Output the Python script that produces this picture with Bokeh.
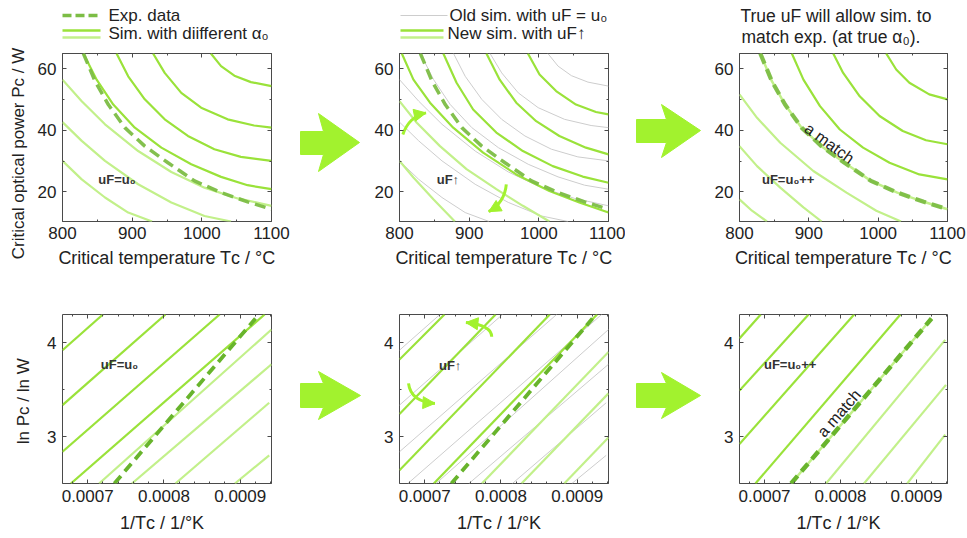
from math import pi
from bokeh.plotting import figure
from bokeh.models import Range1d, SingleIntervalTicker, LinearAxis, NumeralTickFormatter, Arrow, NormalHead
from bokeh.layouts import row, column
from bokeh.core.properties import value
from bokeh.embed import file_html
from bokeh.resources import INLINE

# ---------------- data ----------------
# Top row: critical temperature Tc (degC) vs critical optical power Pc (W)
exp_T = [830, 846.7, 865.7, 889.5, 918.1, 951.4, 989.5, 1027.6, 1065.7, 1100]
exp_P = [65.0, 56.0, 48.4, 40.9, 34.9, 29.5, 23.6, 19.8, 16.8, 14.4]

# simulations with uF = u0 (one curve per alpha0)
old_T = [
    [1013, 1027.6, 1046.7, 1070.5, 1100],
    [930, 946.7, 970.5, 999, 1037, 1075, 1100],
    [877.6, 894.3, 918.1, 946.7, 980, 1018, 1056, 1100],
    [830, 849, 872.9, 903.8, 941.9, 984.8, 1027.6, 1065.7, 1100],
    [800, 827.6, 861, 908.6, 956.2, 1003.8, 1051.4, 1100],
    [800, 827.6, 861, 908.6, 956.2, 1003.8, 1042],
    [800, 827.6, 861, 894.3, 928.6],
]
old_P = [
    [65, 60.9, 57.8, 55.7, 54.4],
    [65, 58.7, 52.2, 47.4, 43.6, 41.6, 40.9],
    [65, 57.6, 50.1, 43.6, 38.2, 33.9, 31.4, 30.1],
    [65, 56.5, 48.4, 40.9, 34.4, 29.0, 24.9, 22.2, 20.9],
    [56.5, 49.5, 42.0, 33.3, 26.5, 21.4, 17.9, 15.5],
    [42.7, 36.6, 30.1, 22.5, 16.6, 12.2, 10.4],
    [30.1, 24.1, 18.2, 13.3, 10.4],
]
old_shade = ["b", "b", "b", "b", "l", "l", "l"]

# simulations with uF increased
new_T = [
    [984.3, 1001, 1024.8, 1053.3, 1082, 1100],
    [924.8, 943.8, 967.6, 996.2, 1029.5, 1067.6, 1100],
    [862.9, 881.9, 905.7, 939, 977.1, 1020, 1062.9, 1100],
    [803.3, 820, 843.8, 877.1, 920, 967.6, 1015.2, 1058.1, 1100],
    [800, 824.8, 858.1, 896.2, 939, 977.1, 1015.2],
    [800, 820, 848.6, 879.5],
]
new_P = [
    [65, 58.2, 52.8, 48.4, 46.0, 45.2],
    [65, 56.5, 49.0, 43.0, 38.2, 34.4, 32.2],
    [65, 55.5, 46.8, 39.3, 33.3, 28.4, 25.0, 23.0],
    [65, 56.5, 49.0, 40.9, 32.8, 25.7, 20.3, 16.6, 13.3],
    [49.5, 42.5, 34.9, 27.4, 20.9, 15.5, 10.4],
    [30.1, 24.7, 17.6, 10.4],
]
new_shade = ["b", "b", "b", "b", "l", "l"]

# simulations with the true uF (the exp. curve itself is matched)
true_T = [
    [1011.6, 1026, 1045, 1073.7, 1100],
    [935.2, 949.5, 973.4, 1002, 1035.5, 1069, 1100],
    [875.5, 892.2, 916.1, 944.7, 978.2, 1016.4, 1059.4, 1100],
    [800, 825.3, 858.8, 906.5, 954.3, 997.3, 1033],
    [800, 825.3, 858.8, 892.2, 918.5],
    [800, 818, 839.6],
]
true_P = [
    [65, 59.8, 55.5, 51.7, 50.1],
    [65, 58.7, 51.1, 44.7, 39.8, 36.8, 35.5],
    [65, 56.5, 47.9, 40.3, 34.4, 29.5, 25.7, 24.1],
    [51.7, 44.1, 36.0, 26.8, 19.8, 13.9, 10.4],
    [34.9, 28.4, 21.4, 15.0, 10.4],
    [17.6, 13.9, 10.4],
]
true_shade = ["b", "b", "b", "l", "l", "l"]

# Bottom row: 1/Tc (1/K) vs ln Pc
exp_inv = [0.000735, 0.000920]
exp_ln = [2.50, 4.257]

old_inv = [[0.000667, 0.000720], [0.000667, 0.000802], [0.000667, 0.000873], [0.000678, 0.000932],
           [0.000715, 0.000941], [0.000758, 0.000941], [0.000815, 0.000938], [0.000893, 0.000938]]
old_ln = [[3.92, 4.30], [3.335, 4.30], [2.838, 4.30], [2.50, 4.30],
          [2.50, 4.14], [2.50, 3.77], [2.50, 3.36], [2.50, 2.80]]
old_lshade = ["b", "b", "b", "b", "l", "l", "l", "l"]

new_inv = [[0.000667, 0.000726], [0.000667, 0.000793], [0.000667, 0.000864], [0.000712, 0.000926],
           [0.000775, 0.000941], [0.000827, 0.000941], [0.000883, 0.000941]]
new_ln = [[3.82, 4.30], [3.24, 4.30], [2.64, 4.30], [2.50, 4.30],
          [2.50, 3.90], [2.50, 3.46], [2.50, 2.99]]
new_lshade = ["b", "b", "b", "b", "l", "l", "l"]

true_inv = [[0.000667, 0.000695], [0.000667, 0.000758], [0.000667, 0.000818], [0.000688, 0.000879],
            [0.000781, 0.000938], [0.000831, 0.000939], [0.000888, 0.000938]]
true_ln = [[4.045, 4.30], [3.49, 4.30], [2.92, 4.30], [2.50, 4.30],
           [2.50, 4.03], [2.50, 3.55], [2.50, 3.02]]
true_lshade = ["b", "b", "b", "b", "l", "l", "l"]

top_x_range = (800, 1100)
top_y_range = (10.4, 65)
bot_x_range = (0.000667, 0.000941)
bot_y_range = (2.5, 4.3)

# annotations
top_labels = [(851.4, 24.1, "uF=u\u2080"), (853.4, 23.9, "uF\u2191"), (832.4, 24.1, "uF=u\u2080++")]
bot_labels = [(0.0007172, 3.77, "uF=u\u2080"), (0.0007187, 3.76, "uF\u2191"), (0.0006992, 3.77, "uF=u\u2080++")]
top_match = (922.5, 33.6, -0.627)
bot_match = (0.0008067, 3.19, 0.855)
# curved arrows: start, control, end
top_curved = [((804.8, 38.7), (814.0, 44.6), (838.1, 45.7)),
              ((953.3, 22.5), (951.0, 16.6), (928.1, 13.6))]
bot_curved = [((0.0007879, 4.062), (0.0007879, 4.186), (0.0007541, 4.215)),
              ((0.0006788, 3.566), (0.0006818, 3.370), (0.0007135, 3.353))]

# block arrows between panels (picture pixel outlines)
blockA = ([300, 323, 318, 359, 318, 323, 300], [131, 131, 113, 142, 171, 154, 154])
blockB = ([636, 666, 661, 700, 661, 666, 636], [119, 119, 104, 130, 157, 142, 142])
blockC = ([300, 323, 318, 360, 318, 323, 300], [383, 383, 371, 395, 419, 407, 407])
blockD = ([636, 666, 661, 700, 661, 666, 636], [383, 383, 372, 395, 418, 407, 407])

# ---------------- style ----------------
FONT = "Liberation Sans"
BRIGHT = "#9ae23a"
LIGHT = "#c2f08a"
DASH_TOP = "#7cbd45"
DASH_BOT = "#68b42c"
GRAY = "#cdcdcd"
LIME = "#a2f22e"
AX = "#4a4a4a"
TXT = "#222222"


def shade(s):
    return BRIGHT if s == "b" else LIGHT


def make_panel(width, height, bl, br, bt, bb, xr, yr, xtk, ytk, xlabel, xfmt=None, xstand=(5, 6)):
    p = figure(width=width, height=height, x_range=Range1d(*xr), y_range=Range1d(*yr),
               output_backend="svg", toolbar_location=None,
               min_border_left=bl, min_border_right=br, min_border_top=bt, min_border_bottom=bb)
    p.grid.visible = False
    p.outline_line_color = AX
    p.outline_line_width = 1
    p.xaxis.ticker = xtk
    p.yaxis.ticker = ytk
    if xfmt is not None:
        p.xaxis.formatter = xfmt
    p.xaxis.axis_label = xlabel
    for ax in (p.xaxis[0], p.yaxis[0]):
        ax.axis_line_color = None
        ax.major_tick_in = 4
        ax.major_tick_out = 0
        ax.minor_tick_in = 2
        ax.minor_tick_out = 0
        ax.major_tick_line_color = AX
        ax.minor_tick_line_color = AX
        ax.major_label_text_font = FONT
        ax.major_label_text_font_size = "17px"
        ax.major_label_text_color = TXT
        ax.axis_label_text_font = FONT
        ax.axis_label_text_font_size = "18px"
        ax.axis_label_text_font_style = "normal"
        ax.axis_label_text_color = TXT
    p.xaxis.major_label_standoff = xstand[0]
    p.xaxis.axis_label_standoff = xstand[1]
    p.yaxis.major_label_standoff = 6
    for loc, tk in (("above", xtk), ("right", ytk)):
        ax = LinearAxis(ticker=tk, major_label_text_color=None, major_label_text_font_size="1px",
                        major_label_standoff=0,
                        axis_line_color=None, major_tick_in=4, major_tick_out=0,
                        minor_tick_in=2, minor_tick_out=0,
                        major_tick_line_color=AX, minor_tick_line_color=AX)
        p.add_layout(ax, loc)
    return p


def label(p, x, y, t, size="13px", style="bold", angle=0.0, align="left", color="#333333",
          baseline="middle"):
    p.text(x=[x], y=[y], text=[t], text_font=value(FONT), text_font_size=size,
           text_font_style=style, angle=angle, text_align=align, text_baseline=baseline,
           text_color=color)


def curved_arrow(p, a):
    (x0, y0), (cx, cy), (x1, y1) = a
    p.quadratic(x0=[x0], y0=[y0], x1=[x1], y1=[y1], cx=[cx], cy=[cy], line_color=LIME, line_width=3)
    p.add_layout(Arrow(end=NormalHead(size=12, fill_color=LIME, line_color=LIME),
                       x_start=cx, y_start=cy, x_end=x1, y_end=y1, line_alpha=0))


def top_tickers():
    return SingleIntervalTicker(interval=100, num_minor_ticks=2), SingleIntervalTicker(interval=20, num_minor_ticks=2)


def bot_tickers():
    return SingleIntervalTicker(interval=0.0001, num_minor_ticks=5), SingleIntervalTicker(interval=1, num_minor_ticks=2)


def blank(w, h, xr, yr):
    return figure(width=w, height=h, x_range=Range1d(*xr), y_range=Range1d(*yr),
                  x_axis_type=None, y_axis_type=None, output_backend="svg", toolbar_location=None,
                  min_border=0, outline_line_color=None)


XT = "Critical temperature T\u1d04 / \u00b0C"
XB = "1/T\u1d04  /  1/\u00b0K"

SW = 34  # width of the strip holding the y-axis titles
HH = 51  # height of the header strip

# ---------------- left strip: y-axis titles ----------------
strip = blank(SW, 538, (0, SW), (538, 0))
label(strip, 18, 153, "Critical optical power P\u1d04 / W", size="17px", style="normal",
      angle=pi / 2, align="center", color=TXT)
label(strip, 23, 396, "ln P\u1d04  /  ln W", size="17px", style="normal",
      angle=pi / 2, align="center", color=TXT)

# ---------------- header (legends / title) ----------------
header = blank(967 - SW, HH, (SW, 967), (HH, 0))
header.line([62, 100], [15, 15], line_color=DASH_TOP, line_width=3.5, line_dash="9 4")
header.line([62, 100], [30, 30], line_color=BRIGHT, line_width=2.5)
header.line([62, 100], [37, 37], line_color=LIGHT, line_width=2.5)
label(header, 108, 15, "Exp. data", size="17px", style="normal", color=TXT)
label(header, 108, 33, "Sim. with diifferent \u03b1\u2080", size="17px", style="normal", color=TXT)
header.line([400, 447], [15, 15], line_color=GRAY, line_width=1)
header.line([400, 443], [30, 30], line_color=BRIGHT, line_width=2.5)
header.line([400, 443], [37, 37], line_color=LIGHT, line_width=2.5)
label(header, 449, 15, "Old sim. with uF = u\u2080", size="17px", style="normal", color=TXT)
label(header, 447, 33, "New sim. with uF\u2191", size="17px", style="normal", color=TXT)
label(header, 740, 15, "True uF will allow sim. to", size="17.5px", style="normal", color=TXT)
label(header, 741, 36, "match exp. (at true \u03b1\u2080).", size="17.5px", style="normal", color=TXT)


def arrow_column(xr, w, shapes):
    f = blank(w, 538 - HH, xr, (538, HH))
    for s in shapes:
        f.patch(s[0], s[1], fill_color=LIME, line_color=LIME, line_width=1)
    return f


# ---------------- top row ----------------
xt, yt = top_tickers()
p1 = make_panel(290 - SW, 219, 62 - SW, 17, 2, 49, top_x_range, top_y_range, xt, yt, XT)
for T, P, s in zip(old_T, old_P, old_shade):
    p1.line(T, P, line_color=shade(s), line_width=2.2)
p1.line(exp_T, exp_P, line_color=DASH_TOP, line_width=3.5, line_dash="11 6", line_alpha=0.95)
label(p1, *top_labels[0])

xt, yt = top_tickers()
p2 = make_panel(255, 219, 29, 16, 2, 49, top_x_range, top_y_range, xt, yt, XT)
for T, P in zip(old_T, old_P):
    p2.line(T, P, line_color=GRAY, line_width=1)
for T, P, s in zip(new_T, new_P, new_shade):
    p2.line(T, P, line_color=shade(s), line_width=2.2)
p2.line(exp_T, exp_P, line_color=DASH_TOP, line_width=3.5, line_dash="11 6", line_alpha=0.95)
label(p2, *top_labels[1])
for a in top_curved:
    curved_arrow(p2, a)

xt, yt = top_tickers()
p3 = make_panel(257, 219, 29, 18, 2, 49, top_x_range, top_y_range, xt, yt, XT)
for T, P, s in zip(true_T, true_P, true_shade):
    p3.line(T, P, line_color=shade(s), line_width=2.2)
p3.line(exp_T, exp_P, line_color=LIGHT, line_width=2.5)
p3.line(exp_T, exp_P, line_color=DASH_TOP, line_width=4.2, line_dash="11 6", line_alpha=0.95)
label(p3, *top_labels[2])
label(p3, top_match[0], top_match[1], "a match", size="16px", style="normal", angle=top_match[2],
      align="center", color=TXT, baseline="bottom")

# ---------------- bottom row ----------------
xt, yt = bot_tickers()
p4 = make_panel(290 - SW, 268, 60 - SW, 19, 44, 55, bot_x_range, bot_y_range, xt, yt, XB,
                xfmt=NumeralTickFormatter(format="0.0000"), xstand=(6, 8))
for X, Y, s in zip(old_inv, old_ln, old_lshade):
    p4.line(X, Y, line_color=shade(s), line_width=2.2)
p4.line(exp_inv, exp_ln, line_color=DASH_BOT, line_width=3.8, line_dash="10 6")
label(p4, *bot_labels[0])

xt, yt = bot_tickers()
p5 = make_panel(255, 268, 27, 17, 44, 55, bot_x_range, bot_y_range, xt, yt, XB,
                xfmt=NumeralTickFormatter(format="0.0000"), xstand=(6, 8))
for X, Y in zip(old_inv, old_ln):
    p5.line(X, Y, line_color=GRAY, line_width=1)
for X, Y, s in zip(new_inv, new_ln, new_lshade):
    p5.line(X, Y, line_color=shade(s), line_width=2.2)
p5.line(exp_inv, exp_ln, line_color=DASH_BOT, line_width=3.8, line_dash="10 6")
label(p5, *bot_labels[1])
for a in bot_curved:
    curved_arrow(p5, a)

xt, yt = bot_tickers()
p6 = make_panel(257, 268, 27, 20, 44, 55, bot_x_range, bot_y_range, xt, yt, XB,
                xfmt=NumeralTickFormatter(format="0.0000"), xstand=(6, 8))
for X, Y, s in zip(true_inv, true_ln, true_lshade):
    p6.line(X, Y, line_color=shade(s), line_width=2.2)
p6.line(exp_inv, exp_ln, line_color=LIGHT, line_width=2.5)
p6.line(exp_inv, exp_ln, line_color=DASH_BOT, line_width=4.5, line_dash="10 6")
label(p6, *bot_labels[2])
label(p6, bot_match[0], bot_match[1], "a match", size="16px", style="normal", angle=bot_match[2],
      align="center", color=TXT, baseline="bottom")

arr1 = arrow_column((290, 370), 80, [blockA, blockC])
arr2 = arrow_column((625, 710), 85, [blockB, blockD])

body = row(column(p1, p4), arr1, column(p2, p5), arr2, column(p3, p6))
layout = row(strip, column(header, body))
open("out.html", "w").write(file_html(layout, INLINE))
